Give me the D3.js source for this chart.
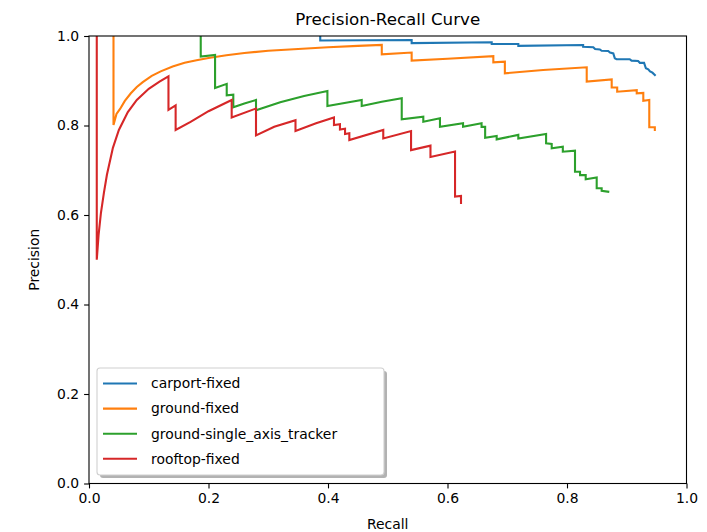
<!DOCTYPE html>
<html>
<head>
<meta charset="utf-8">
<script src="https://cdn.jsdelivr.net/npm/d3@7"></script>
<style>
  body { margin: 0; background: #fff; }
  text { font-family: "DejaVu Sans", sans-serif; fill: #000; }
</style>
</head>
<body>
<div id="chart"></div>
<script>
// series names and colours (matplotlib tab10)
var names = ["carport-fixed", "ground-fixed", "ground-single_axis_tracker", "rooftop-fixed"];
var colors = ["#1f77b4", "#ff7f0e", "#2ca02c", "#d62728"];

// [recall, precision] pairs
var carport = [
    [0.387, 1], [0.387, 0.990], [0.54, 0.991], [0.54, 0.984], [0.674, 0.986], [0.674, 0.982],
    [0.7185, 0.982], [0.7185, 0.978], [0.827, 0.980], [0.827, 0.976], [0.844, 0.975], [0.847, 0.971],
    [0.855, 0.970], [0.858, 0.967], [0.869, 0.9665], [0.872, 0.963], [0.8775, 0.961], [0.880, 0.950],
    [0.883, 0.948], [0.905, 0.948], [0.908, 0.945], [0.919, 0.944], [0.922, 0.940], [0.929, 0.940],
    [0.932, 0.928], [0.936, 0.9256], [0.939, 0.921], [0.943, 0.918], [0.947, 0.913]
];
var groundFixed = [
    [0.041, 1], [0.041, 0.801], [0.046, 0.826], [0.052, 0.837], [0.06, 0.855], [0.07, 0.872],
    [0.08, 0.886], [0.09, 0.897], [0.105, 0.911], [0.12, 0.921], [0.14, 0.932], [0.16, 0.94],
    [0.18, 0.946], [0.2, 0.951], [0.23, 0.957], [0.26, 0.962], [0.3, 0.967], [0.35, 0.971],
    [0.4, 0.975], [0.45, 0.978], [0.49, 0.980], [0.49, 0.959], [0.54, 0.963], [0.54, 0.945],
    [0.6, 0.949], [0.6767, 0.955], [0.6767, 0.941], [0.696, 0.9426], [0.696, 0.9166],
    [0.76, 0.924], [0.833, 0.930], [0.833, 0.898], [0.8748, 0.903], [0.8748, 0.885], [0.884, 0.885],
    [0.884, 0.8755], [0.9167, 0.879], [0.9167, 0.872], [0.9277, 0.873], [0.9277, 0.8554],
    [0.9377, 0.857], [0.9377, 0.796], [0.947, 0.796], [0.947, 0.79]
];
var groundTracker = [
    [0.187, 1], [0.187, 0.954], [0.211, 0.9575], [0.211, 0.884], [0.2305, 0.893],
    [0.2305, 0.8675], [0.2415, 0.869], [0.2415, 0.8407], [0.26, 0.849], [0.2795, 0.857],
    [0.2795, 0.834], [0.32, 0.852], [0.36, 0.866], [0.399, 0.877], [0.399, 0.8436], [0.43, 0.851],
    [0.4564, 0.857], [0.4564, 0.8436], [0.49, 0.853], [0.5234, 0.861], [0.5234, 0.814],
    [0.5595, 0.8197], [0.5595, 0.8085], [0.5874, 0.816], [0.5874, 0.797], [0.626, 0.805],
    [0.626, 0.797], [0.657, 0.805], [0.657, 0.797], [0.663, 0.797], [0.663, 0.7725],
    [0.6823, 0.7765], [0.6823, 0.769], [0.7185, 0.779], [0.7185, 0.771], [0.765, 0.781],
    [0.765, 0.760], [0.7744, 0.7587], [0.7744, 0.749], [0.793, 0.7526], [0.793, 0.7415],
    [0.8134, 0.7437], [0.8134, 0.6968], [0.8218, 0.6968], [0.8218, 0.689], [0.8313, 0.689],
    [0.8313, 0.680], [0.8497, 0.684], [0.8497, 0.6597], [0.858, 0.6597], [0.858, 0.654],
    [0.869, 0.652]
];
var rooftop = [
    [0.013, 1], [0.013, 0.5], [0.016, 0.555], [0.02, 0.605], [0.025, 0.65], [0.03, 0.69],
    [0.04, 0.75], [0.05, 0.79], [0.065, 0.83], [0.08, 0.857], [0.1, 0.882], [0.118, 0.898],
    [0.133, 0.91], [0.133, 0.835], [0.145, 0.845], [0.145, 0.79], [0.17, 0.808], [0.2, 0.832],
    [0.2388, 0.857], [0.2388, 0.818], [0.2795, 0.838], [0.2795, 0.778], [0.31, 0.797],
    [0.3456, 0.812], [0.3456, 0.788], [0.38, 0.805], [0.41, 0.818], [0.41, 0.801], [0.42, 0.803],
    [0.42, 0.791], [0.4285, 0.793], [0.4285, 0.781], [0.4357, 0.7826], [0.4357, 0.7676],
    [0.4925, 0.79], [0.4925, 0.771], [0.539, 0.7877], [0.539, 0.745], [0.5715, 0.755],
    [0.5715, 0.7296], [0.6126, 0.742], [0.6126, 0.641], [0.6226, 0.6425], [0.6226, 0.627]
];
var series = [carport, groundFixed, groundTracker, rooftop];

var xTicks = [0, 0.2, 0.4, 0.6, 0.8, 1.0];
var yTicks = [0, 0.2, 0.4, 0.6, 0.8, 1.0];

var width = 707,
    height = 532,
    margin = {top: 36, right: 20.5, bottom: 48.5, left: 89};
var w = width - margin.left - margin.right,
    h = height - margin.top - margin.bottom;

var svg = d3.select("#chart")
    .append("svg")
    .attr("width", width)
    .attr("height", height);

var g = svg.append("g")
    .attr("transform", "translate(" + margin.left + "," + margin.top + ")");

var x = d3.scaleLinear().domain([0, 1]).range([0, w]);
var y = d3.scaleLinear().domain([0, 1]).range([h, 0]);

svg.append("defs").append("clipPath")
    .attr("id", "plot-clip")
    .append("rect")
    .attr("width", w)
    .attr("height", h);

var line = d3.line()
    .x(function(d) { return x(d[0]); })
    .y(function(d) { return y(d[1]); });

g.append("g")
    .attr("clip-path", "url(#plot-clip)")
    .selectAll("path")
    .data(series)
    .enter().append("path")
    .attr("d", line)
    .attr("fill", "none")
    .attr("stroke", function(d, i) { return colors[i]; })
    .attr("stroke-width", 2.1)
    .attr("stroke-linejoin", "miter")
    .attr("stroke-linecap", "square");

// axes
var fmt = d3.format(".1f");
var xAxis = g.append("g")
    .attr("transform", "translate(0," + h + ")")
    .call(d3.axisBottom(x).tickValues(xTicks).tickFormat(fmt).tickSize(4.9).tickPadding(4.9));
var yAxis = g.append("g")
    .call(d3.axisLeft(y).tickValues(yTicks).tickFormat(fmt).tickSize(4.9).tickPadding(4.9));

[xAxis, yAxis].forEach(function(a) {
    a.select(".domain").remove();
    a.selectAll(".tick line").attr("stroke", "#000").attr("stroke-width", 1.1);
    a.selectAll(".tick text")
        .attr("font-family", "DejaVu Sans")
        .attr("font-size", 13.9)
        .attr("fill", "#000");
});

// frame
g.append("rect")
    .attr("width", w)
    .attr("height", h)
    .attr("fill", "none")
    .attr("stroke", "#000")
    .attr("stroke-width", 1.1);

// titles
svg.append("text")
    .attr("x", margin.left + w / 2)
    .attr("y", 25)
    .attr("text-anchor", "middle")
    .attr("font-size", 16.7)
    .text("Precision-Recall Curve");

svg.append("text")
    .attr("x", margin.left + w / 2)
    .attr("y", 529)
    .attr("text-anchor", "middle")
    .attr("font-size", 13.9)
    .text("Recall");

svg.append("text")
    .attr("transform", "translate(39," + (margin.top + h / 2) + ") rotate(-90)")
    .attr("text-anchor", "middle")
    .attr("font-size", 13.9)
    .text("Precision");

// legend
var lx = 97, ly = 368, lw = 287, lh = 107;
var legend = svg.append("g");
legend.append("rect")
    .attr("x", lx + 3).attr("y", ly + 3)
    .attr("width", lw).attr("height", lh)
    .attr("rx", 3)
    .attr("fill", "#7f7f7f")
    .attr("fill-opacity", 0.6);
legend.append("rect")
    .attr("x", lx).attr("y", ly)
    .attr("width", lw).attr("height", lh)
    .attr("rx", 3)
    .attr("fill", "#fff")
    .attr("stroke", "#d0d0d0")
    .attr("stroke-width", 1.1);

var items = legend.selectAll(".item")
    .data(names)
    .enter().append("g")
    .attr("class", "item")
    .attr("transform", function(d, i) { return "translate(" + lx + "," + (ly + 15.5 + i * 25.1) + ")"; });

items.append("line")
    .attr("x1", 6).attr("x2", 40)
    .attr("stroke", function(d, i) { return colors[i]; })
    .attr("stroke-width", 2.1);

items.append("text")
    .attr("x", 54)
    .attr("dy", "0.35em")
    .attr("font-size", 13.9)
    .text(function(d) { return d; });
</script>
</body>
</html>
